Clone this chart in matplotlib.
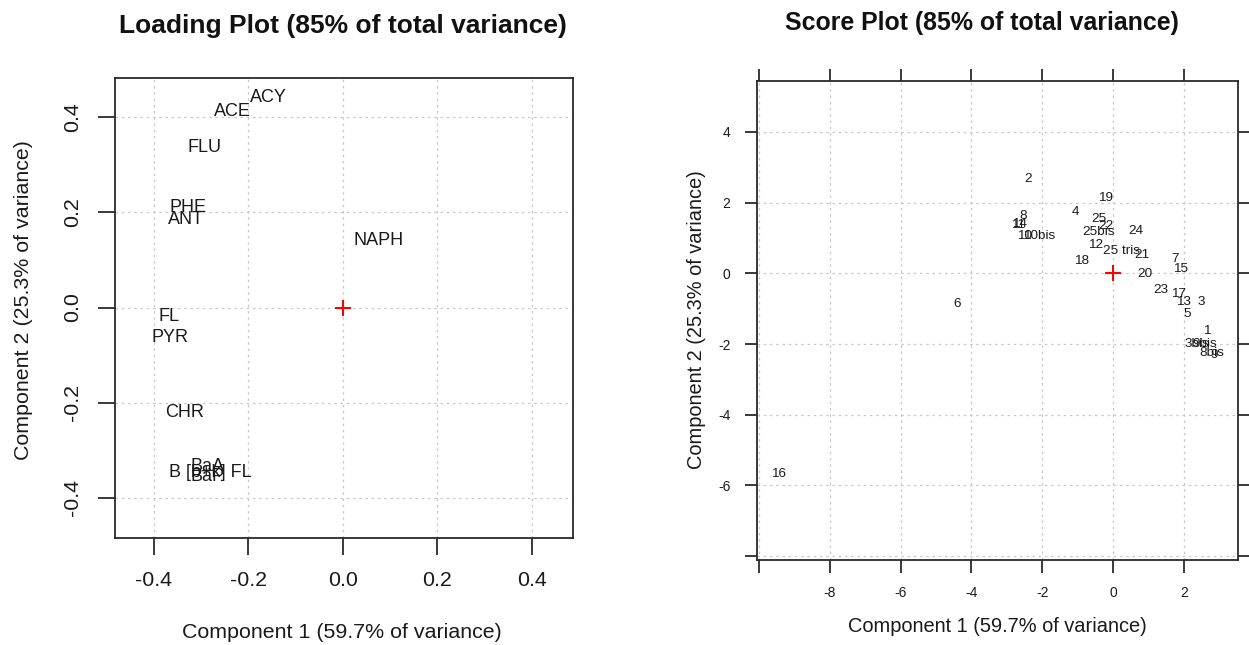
import matplotlib
matplotlib.use("Agg")
import matplotlib.pyplot as plt
import numpy as np

plt.rcParams['font.family'] = ['Liberation Sans', 'DejaVu Sans']

# ---------------- data ----------------
load_labels = ["ACY", "ACE", "FLU", "PHE", "ANT", "NAPH", "FL", "PYR", "CHR",
               "B [b+k] FL", "BaA", "BaP"]
load_pc1 = [-0.157, -0.233, -0.294, -0.328, -0.332, 0.076, -0.368, -0.366, -0.336,
            -0.281, -0.286, -0.286]
load_pc2 = [0.441, 0.412, 0.336, 0.211, 0.186, 0.141, -0.019, -0.063, -0.220,
            -0.347, -0.334, -0.356]

score_labels = ["2", "19", "4", "8", "14", "11", "10", "10bis", "25", "22", "25bis", "24",
                "12", "25 tris", "21", "18", "20", "7", "15", "23", "17", "13", "3", "5",
                "1", "3bis", "9bis", "8bis", "9", "6", "16"]
score_pc1 = [-2.40, -0.20, -1.05, -2.54, -2.63, -2.68, -2.51, -2.09, -0.40, -0.20, -0.40, 0.65,
             -0.48, 0.25, 0.82, -0.88, 0.90, 1.75, 1.92, 1.36, 1.86, 1.98, 2.49, 2.09,
             2.66, 2.37, 2.60, 2.80, 2.85, -4.41, -9.46]
score_pc2 = [2.66, 2.12, 1.73, 1.61, 1.39, 1.36, 1.05, 1.05, 1.53, 1.33, 1.16, 1.19,
             0.79, 0.62, 0.51, 0.34, -0.03, 0.40, 0.11, -0.48, -0.59, -0.82, -0.82, -1.16,
             -1.64, -2.01, -2.01, -2.26, -2.32, -0.88, -5.69]

load_ticks = [-0.4, -0.2, 0.0, 0.2, 0.4]
load_ticklabels = ["-0.4", "-0.2", "0.0", "0.2", "0.4"]
score_xticks = [-10, -8, -6, -4, -2, 0, 2]
score_yticks = [-8, -6, -4, -2, 0, 2, 4]

title_left = "Loading Plot (85% of total variance)"
title_right = "Score Plot (85% of total variance)"
xlab = "Component 1 (59.7% of variance)"
ylab = "Component 2 (25.3% of variance)"

# ---------------- figure ----------------
W, H = 1249, 645
fig = plt.figure(figsize=(W / 100, H / 100), dpi=100)

def fx(px):
    return px / W

def fy(py):
    return 1 - py / H

grid_kw = dict(color="#c8c8c8", linestyle=(0, (2, 3)), linewidth=0.9)
box_col = "#2a2a2a"

# ---- Loading plot ----
ax1 = fig.add_axes([fx(115), fy(538), fx(573) - fx(115), fy(78) - fy(538)])
ax1.set_xlim(-0.4825, 0.487)
ax1.set_ylim(-0.485, 0.483)
for t in load_ticks:
    ax1.axvline(t, **grid_kw, zorder=0)
    ax1.axhline(t, **grid_kw, zorder=0)
for s in ax1.spines.values():
    s.set_color(box_col)
    s.set_linewidth(1.3)
ax1.set_xticks(load_ticks)
ax1.set_xticklabels(load_ticklabels)
ax1.set_yticks(load_ticks)
ax1.set_yticklabels(load_ticklabels, rotation=90, va="center")
ax1.tick_params(axis="both", length=12, width=1.3, color=box_col,
                labelsize=15.4, pad=12, labelcolor="#1a1a1a")
for lab, x, y in zip(load_labels, load_pc1, load_pc2):
    ax1.text(x, y, lab, ha="center", va="center", fontsize=13, color="#1a1a1a")
ax1.plot([0], [0], marker="+", color="red", markersize=12, mew=1.5, linestyle="none")

fig.text(fx(343), fy(26), title_left, ha="center", va="center",
         fontsize=19, fontweight="bold", color="#111111")
fig.text(fx(342), fy(632), xlab, ha="center", va="center", fontsize=15.4, color="#1a1a1a")
fig.text(fx(24), fy(300), ylab, ha="center", va="center", fontsize=15.4,
         rotation=90, color="#1a1a1a")

# ---- Score plot ----
ax2 = fig.add_axes([fx(757), fy(560), fx(1238) - fx(757), fy(81) - fy(560)])
ax2.set_xlim(-10.06, 3.53)
ax2.set_ylim(-8.11, 5.44)
for t in score_xticks:
    ax2.axvline(t, **grid_kw, zorder=0)
for t in score_yticks:
    ax2.axhline(t, **grid_kw, zorder=0)
for s in ax2.spines.values():
    s.set_color(box_col)
    s.set_linewidth(1.3)
ax2.set_xticks(score_xticks)
ax2.set_xticklabels(["" if v == -10 else str(v) for v in score_xticks])
ax2.set_yticks(score_yticks)
ax2.set_yticklabels(["" if v == -8 else str(v) for v in score_yticks])
ax2.tick_params(axis="both", length=9, width=1.3, color=box_col,
                labelsize=10, pad=10, labelcolor="#1a1a1a",
                top=True, right=True, labeltop=False, labelright=False)
for lab, x, y in zip(score_labels, score_pc1, score_pc2):
    ax2.text(x, y, lab, ha="center", va="center", fontsize=9.7, color="#1a1a1a")
ax2.plot([0], [0], marker="+", color="red", markersize=12, mew=1.5, linestyle="none")

fig.text(fx(982), fy(23), title_right, ha="center", va="center",
         fontsize=17.9, fontweight="bold", color="#111111")
fig.text(fx(997), fy(626), xlab, ha="center", va="center", fontsize=14.4, color="#1a1a1a")
fig.text(fx(697), fy(320), ylab, ha="center", va="center", fontsize=14.4,
         rotation=90, color="#1a1a1a")

fig.savefig("out.png", dpi=100)
